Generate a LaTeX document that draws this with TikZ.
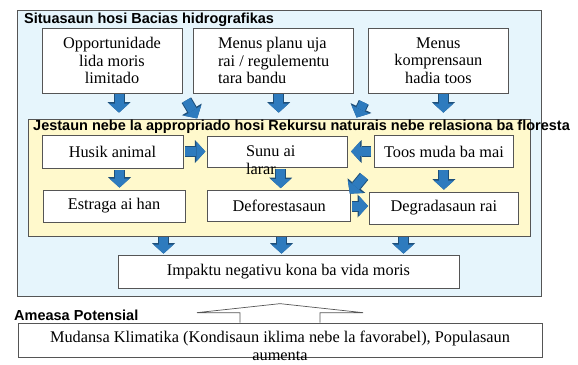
\documentclass[tikz,border=0pt]{standalone}
\usepackage{fontspec}
\setmainfont{Liberation Serif}
\setsansfont{Liberation Sans}
\usetikzlibrary{arrows.meta,positioning,calc}

\definecolor{basinblue}{HTML}{E6F5FC}
\definecolor{zoneyellow}{HTML}{FFF9CC}
\definecolor{arrowblue}{HTML}{2E7BBE}
\definecolor{arrowedge}{HTML}{1D4F7A}
\definecolor{boxline}{HTML}{555555}

% text that may run out of its box
\newcommand{\spill}[3][-5pt]{\smash{\raisebox{#1}{\begin{tabular}[t]{@{}#2@{}}#3\end{tabular}}}}

\begin{document}
\begin{tikzpicture}[
  x=1pt, y=-1pt,
  node distance=11pt and 11pt,
  box/.style={draw=boxline, line width=0.7pt, fill=white, align=center, inner sep=2pt, font=\fontsize{16.3}{17.5}\selectfont},
  zone/.style={draw=boxline, line width=0.7pt},
  title/.style={anchor=west, inner sep=0pt, font=\sffamily\bfseries\fontsize{14.5}{16}\selectfont},
  fat/.style={line width=9pt, draw=arrowblue, -{Triangle[width=20pt, length=9pt, line width=0pt]},
    preaction={draw=arrowedge, line width=11pt, -{Triangle[width=23pt, length=10.5pt, line width=0pt]}}},
  hollow/.style={draw=boxline, line width=0.7pt, fill=white}
]
\useasboundingbox (0,0) rectangle (578,364);

\node[zone, fill=basinblue, minimum width=524pt, minimum height=286pt] (bacias) at (279,153) {};
\node[title] (baciastitle) at (24,20) {Situasaun hosi Bacias hidrografikas};

\node[box, minimum width=140pt, minimum height=65pt] (oportun) at (112,60.5) {Opportunidade\\lida moris\\limitado};
\node[box, minimum width=160pt, minimum height=65pt, align=left, right=11pt of oportun] (planu) {Menus planu uja\\rai / regulementu\\tara bandu};
\node[box, minimum width=140pt, minimum height=65pt, right=14pt of planu] (kompensa) {Menus\\komprensaun\\hadia toos};

\node[zone, fill=zoneyellow, minimum width=502pt, minimum height=117pt] (jestaun) at (279,177.5) {};
\node[title] (jestauntitle) at (33,127) {Jestaun nebe la appropriado hosi Rekursu naturais nebe relasiona ba floresta};

\node[box, minimum width=141pt, minimum height=33pt] (husik) at (112.5,151.5) {Husik animal};
\node[box, minimum width=140pt, minimum height=31pt, right=24pt of husik] (sunu) {\spill{l}{\hspace*{-14pt}Sunu ai\\\hspace*{-14pt}larar}};
\node[box, minimum width=139pt, minimum height=32pt, right=26pt of sunu] (toos) {Toos muda ba mai};

\node[box, minimum width=142pt, minimum height=32pt] (estraga) at (114,206) {Estraga ai han};
\node[box, minimum width=143pt, minimum height=31pt, right=22pt of estraga] (deforest) {Deforestasaun};
\node[box, minimum width=149pt, minimum height=32pt, right=18pt of deforest, yshift=-2pt] (degrad) {Degradasaun rai};

\node[box, minimum width=341pt, minimum height=33pt] (impaktu) at (288.5,271.5) {Impaktu negativu kona ba vida moris};

\node[title] (ameasa) at (14,315) {Ameasa Potensial};
\node[box, minimum width=524pt, minimum height=34pt] (mudansa) at (280,340) {\spill[-2.5pt]{c}{Mudansa Klimatika (Kondisaun iklima nebe la favorabel), Populasaun\\aumenta}};

% arrows into the yellow zone
\draw[fat, shorten <=1pt, shorten >=6pt] ([xshift=7pt]oportun.south) -- ([xshift=7pt]oportun.south |- jestaun.north);
\draw[fat, shorten <=1pt, shorten >=6pt] ([xshift=5pt]planu.south) -- ([xshift=5pt]planu.south |- jestaun.north);
\draw[fat, shorten <=1pt, shorten >=6pt] ([xshift=5pt]kompensa.south) -- ([xshift=5pt]kompensa.south |- jestaun.north);
\draw[fat, shorten <=8pt, shorten >=20pt] (oportun.south east) -- (sunu.north west);
\draw[fat, shorten <=10pt, shorten >=20pt] (kompensa.south west) -- (sunu.north east);

% arrows inside
\draw[fat, shorten <=2pt, shorten >=2pt] (husik.east) -- (husik.east -| sunu.west);
\draw[fat, shorten <=3pt, shorten >=3pt] (toos.west) -- (toos.west -| sunu.east);
\draw[fat, shorten <=2pt, shorten >=2pt] ([xshift=7pt]husik.south) -- ([xshift=7pt]husik.south |- estraga.north);
\draw[fat, shorten <=2pt, shorten >=2pt] ([xshift=3pt]sunu.south) -- ([xshift=3pt]sunu.south |- deforest.north);
\draw[fat, shorten <=2pt, shorten >=2pt] (toos.south) -- (toos.south |- degrad.north);
\draw[fat, shorten <=1pt, shorten >=1pt] (deforest.east) -- (deforest.east -| degrad.west);
\draw[fat, shorten <=11pt, shorten >=-2pt] ([shift={(-3,0)}]toos.south west) -- ([shift={(0,2)}]deforest.north east);

% arrows to the impact
\draw[fat, shorten <=1pt, shorten >=1pt] ([xshift=-125pt]impaktu.north |- jestaun.south) -- ([xshift=-125pt]impaktu.north);
\draw[fat, shorten <=1pt, shorten >=1pt] ([xshift=-7pt]impaktu.north |- jestaun.south) -- ([xshift=-7pt]impaktu.north);
\draw[fat, shorten <=1pt, shorten >=1pt] ([xshift=115pt]impaktu.north |- jestaun.south) -- ([xshift=115pt]impaktu.north);

% threat pushing up into the basin
\draw[hollow] ([shift={(-40,0)}]mudansa.north) -- ([shift={(-40,-10)}]mudansa.north)
  -- ([shift={(-83,-10)}]mudansa.north) -- ([shift={(0,-19)}]mudansa.north)
  -- ([shift={(83,-10)}]mudansa.north) -- ([shift={(40,-10)}]mudansa.north)
  -- ([shift={(40,0)}]mudansa.north);
\end{tikzpicture}
\end{document}
